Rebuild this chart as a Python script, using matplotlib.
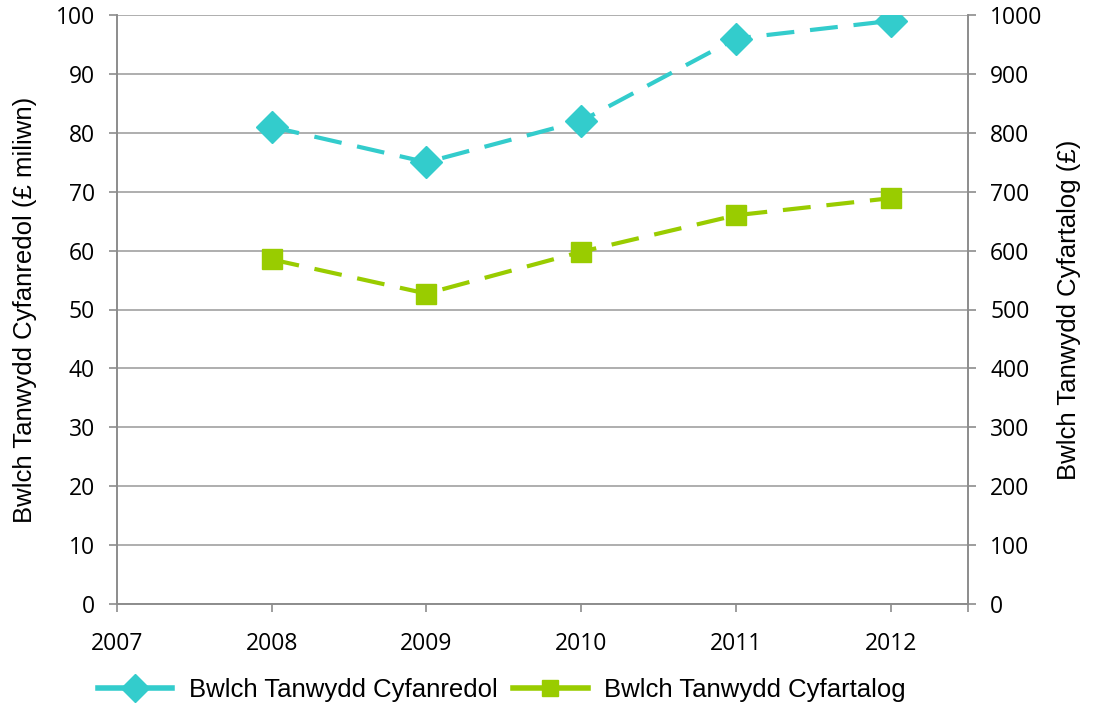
import matplotlib
matplotlib.use("Agg")
import matplotlib.pyplot as plt
from matplotlib.lines import Line2D

years = [2008, 2009, 2010, 2011, 2012]
total_gap = [81, 75, 82, 96, 99]          # £ miliwn (left axis)
average_gap = [585, 527, 598, 660, 689]   # £ (right axis)
xtick_years = [2007, 2008, 2009, 2010, 2011, 2012]
label_total = "Bwlch Tanwydd Cyfanredol"
label_avg = "Bwlch Tanwydd Cyfartalog"

plt.rcParams["font.family"] = ["Liberation Sans", "DejaVu Sans"]
tick_font = ["Open Sans", "DejaVu Sans"]

grey = "#8c8c8c"
cyan = "#33CCCC"
green = "#99CC00"

fig = plt.figure(figsize=(10.98, 7.04), dpi=100)
ax = fig.add_axes([117 / 1098, 1 - 604 / 704, (968 - 117) / 1098, (604 - 15) / 704])
ax2 = ax.twinx()

ax.plot(years, total_gap, color=cyan, lw=3, dashes=(6.7, 3.8),
        marker="D", markersize=16.5, zorder=3)
ax2.plot(years, average_gap, color=green, lw=3, dashes=(6.7, 3.8),
         marker="s", markersize=14.5, zorder=3)

ax.set_xlim(2007, 2012.5)
ax.set_ylim(0, 100)
ax2.set_ylim(0, 1000)
ax.set_yticks(range(0, 101, 10))
ax2.set_yticks(range(0, 1001, 100))
ax.set_xticks(xtick_years)
ax.set_xticks([2012.5], minor=True)

ax.yaxis.grid(True, color="#a8a8a8", lw=1.3)
ax.set_axisbelow(True)

for a in (ax, ax2):
    a.spines["top"].set_visible(False)
    for s in ("left", "right", "bottom"):
        a.spines[s].set_color(grey)
        a.spines[s].set_linewidth(1.2)
    a.tick_params(colors="black", length=6, width=1.2, color=grey)
    for t in a.get_xticklabels() + a.get_yticklabels():
        t.set_family(tick_font)
        t.set_fontsize(16.5)
ax.tick_params(axis="x", which="minor", length=6, width=1.2, color=grey)
ax.tick_params(axis="x", pad=14)
ax.tick_params(axis="y", pad=10)
ax2.tick_params(axis="y", pad=10)

ax.set_ylabel("Bwlch Tanwydd Cyfanredol (£ miliwn)", fontsize=18.5)
ax.yaxis.set_label_coords(-0.094, 0.5)
ax2.set_ylabel("Bwlch Tanwydd Cyfartalog (£)", fontsize=18.5, rotation=90)
ax2.yaxis.set_label_coords(1.105, 0.5)

handles = [
    Line2D([], [], color=cyan, lw=4, marker="D", markersize=14, label=label_total),
    Line2D([], [], color=green, lw=4, marker="s", markersize=11.5, label=label_avg),
]
fig.legend(handles=handles, loc="center", ncol=2, frameon=False,
           bbox_to_anchor=(0.457, 1 - 690 / 704), fontsize=18.5, handlelength=2.9,
           columnspacing=0.6, handletextpad=0.65)

fig.savefig("out.png", dpi=100)
